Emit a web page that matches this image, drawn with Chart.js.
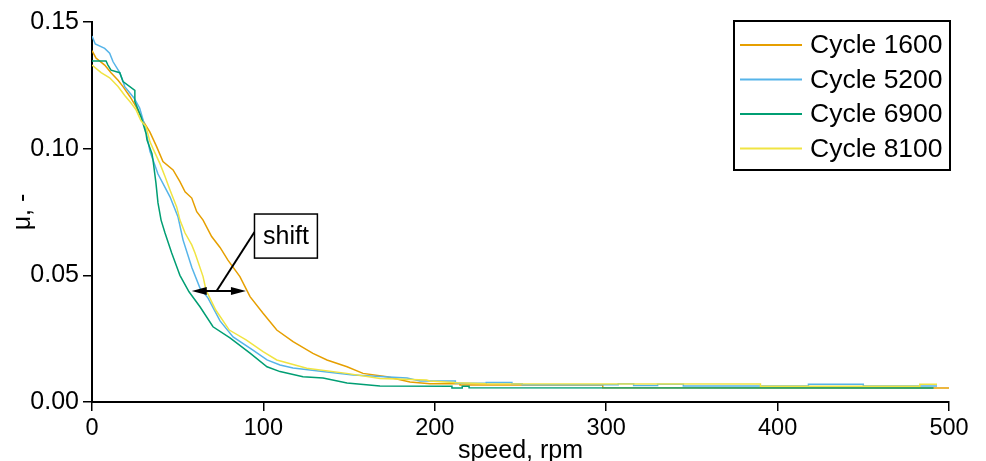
<!DOCTYPE html>
<html>
<head>
<meta charset="utf-8">
<title>Reibwert über Drehzahl</title>
<script src="https://cdn.jsdelivr.net/npm/chart.js@4.4.1/dist/chart.umd.min.js"></script>
<style>
    html, body { margin: 0; padding: 0; background: #fff; }
    canvas { display: block; }
</style>
</head>
<body>
<canvas id="chart" width="986" height="461"></canvas>
<script>

let seriesLabels = ['Cycle 1600', 'Cycle 5200', 'Cycle 6900', 'Cycle 8100'];
let seriesColors = ['#E69F00', '#56B4E9', '#009E73', '#F0E442'];

// speed in rpm, mu
let cycle1600Speed = [0, 2.3, 7.4, 11.1, 15.2, 18.1, 22.2, 25.7, 29.8, 33.8, 37.7, 41.4, 47.3, 51.3, 54.3, 58.2, 61.1, 64.8, 69.8, 74.7, 79.3, 86.3, 92.2, 99.8, 107.8, 117.3, 128.9, 137.1, 148.8, 158.1, 172.1, 185.5, 197.2, 214.7, 214.7, 298, 298, 500];
let cycle1600Mu = [0.1387, 0.1358, 0.1330, 0.1300, 0.1270, 0.1245, 0.1205, 0.1166, 0.1110, 0.1065, 0.1008, 0.0949, 0.0916, 0.0870, 0.0830, 0.0805, 0.0751, 0.0718, 0.0653, 0.0610, 0.0560, 0.0495, 0.0416, 0.0350, 0.0284, 0.0238, 0.0192, 0.0166, 0.0139, 0.0113, 0.0100, 0.0079, 0.0072, 0.0072, 0.0067, 0.0067, 0.0056, 0.0055];

let cycle5200Speed = [0, 1.9, 7.4, 10.3, 12.3, 16.2, 18.1, 19.1, 24.5, 27.8, 29.8, 31.5, 33.8, 38.5, 45.5, 50.2, 53.1, 58.3, 63.0, 67.7, 74.7, 82.3, 93.9, 102.1, 109.7, 117.3, 137.1, 152.3, 183.8, 191.4, 212, 212, 230, 230, 245, 245, 251, 251, 307, 307, 316, 316, 330, 330, 345, 345, 418, 418, 450, 450, 493];
let cycle5200Mu = [0.1445, 0.1413, 0.1396, 0.1377, 0.1343, 0.1300, 0.1265, 0.1245, 0.1200, 0.1160, 0.1113, 0.1070, 0.0990, 0.0900, 0.0810, 0.0730, 0.0640, 0.0530, 0.0450, 0.0410, 0.0320, 0.0257, 0.0205, 0.0166, 0.0146, 0.0134, 0.0118, 0.0107, 0.0095, 0.0083, 0.0083, 0.0074, 0.0074, 0.0077, 0.0077, 0.0072, 0.0072, 0.0068, 0.0068, 0.0072, 0.0072, 0.0065, 0.0065, 0.0070, 0.0070, 0.0063, 0.0063, 0.0070, 0.0070, 0.0063, 0.0063];

let cycle6900Speed = [0, 8.2, 9.3, 11.1, 16.2, 18.1, 25.0, 25.0, 28.6, 31.5, 32.1, 35.0, 35.6, 37.3, 38.5, 40.3, 42.6, 46.5, 50.2, 51.3, 56.6, 63.0, 70.6, 80.5, 92.2, 102.1, 109.7, 123.1, 134.8, 148.8, 168.0, 210, 210, 216, 216, 220, 220, 491];
let cycle6900Mu = [0.1346, 0.1346, 0.1330, 0.1310, 0.1300, 0.1265, 0.1230, 0.1186, 0.1126, 0.1060, 0.1034, 0.0980, 0.0955, 0.0865, 0.0786, 0.0718, 0.0667, 0.0588, 0.0520, 0.0500, 0.0435, 0.0376, 0.0297, 0.0253, 0.0193, 0.0139, 0.0120, 0.0100, 0.0095, 0.0075, 0.0063, 0.0062, 0.0055, 0.0055, 0.0062, 0.0062, 0.0056, 0.0055];

let cycle8100Speed = [0, 5.3, 10.3, 15.2, 19.1, 22.8, 25.7, 28.6, 31.5, 33.8, 35.6, 39.7, 42.6, 45.5, 49.4, 51.3, 54.3, 58.2, 60.1, 64.8, 66.5, 72.2, 80.1, 89.9, 99.8, 107.8, 125.3, 148.6, 168.0, 195.2, 197, 213, 230, 390, 390, 483, 483, 493];
let cycle8100Mu = [0.1330, 0.1300, 0.1280, 0.1245, 0.1210, 0.1180, 0.1153, 0.1110, 0.1087, 0.1028, 0.1000, 0.0940, 0.0890, 0.0837, 0.0770, 0.0718, 0.0667, 0.0620, 0.0588, 0.0495, 0.0442, 0.0363, 0.0284, 0.0245, 0.0199, 0.0166, 0.0133, 0.0113, 0.0093, 0.0087, 0.0083, 0.0076, 0.0072, 0.0071, 0.0062, 0.0062, 0.0070, 0.0070];

let xTicks = [0, 100, 200, 300, 400, 500];
let yTicks = [0.00, 0.05, 0.10, 0.15];

// Annotation "shift" in Datenkoordinaten
let shiftArrowFrom = [58.2, 0.0438];
let shiftArrowTo = [89.8, 0.0438];
let shiftLineFrom = [94.8, 0.0671];
let shiftLineTo = [72.7, 0.0438];
let shiftBox = [94.8, 0.0742, 131.5, 0.0568];

const fontFamily = '"Liberation Sans", Arial, sans-serif';


function toPoints(xs, ys) {
    /*
        Baut aus zwei Arrays die {x, y} Punkte für Chart.js.
     */
    let points = [];
    for (let i = 0; i < xs.length; i++) {
        points.push({x: xs[i], y: ys[i]});
    }
    return points;
}

function createDataset(index, xs, ys) {
    return {
        label: seriesLabels[index],
        data: toPoints(xs, ys),
        borderColor: seriesColors[index],
        borderWidth: 1.5,
        pointRadius: 0,
        fill: false,
        tension: 0,
        order: 4 - index
    };
}

let legendBoxPlugin = {
    id: 'legendBox',
    afterDraw: function (chart) {
        /*
            Legende mit Rahmen oben rechts im Diagramm.
         */
        let ctx = chart.ctx;
        let datasets = chart.data.datasets;
        ctx.save();
        ctx.strokeStyle = '#000';
        ctx.lineWidth = 2;
        ctx.strokeRect(734, 21, 216, 149);
        ctx.font = '26.5px ' + fontFamily;
        ctx.textBaseline = 'middle';
        ctx.fillStyle = '#000';
        for (let i = 0; i < datasets.length; i++) {
            let y = 45 + i * 34.5;
            ctx.strokeStyle = datasets[i].borderColor;
            ctx.lineWidth = 2;
            ctx.beginPath();
            ctx.moveTo(740, y);
            ctx.lineTo(802, y);
            ctx.stroke();
            ctx.fillText(datasets[i].label, 810, y + 1);
        }
        ctx.restore();
    }
};

function drawArrowHead(ctx, tipX, tipY, dir) {
    ctx.beginPath();
    ctx.moveTo(tipX, tipY);
    ctx.lineTo(tipX - dir * 15, tipY - 4);
    ctx.lineTo(tipX - dir * 15, tipY + 4);
    ctx.closePath();
    ctx.fill();
}

let shiftPlugin = {
    id: 'shiftNote',
    afterDatasetsDraw: function (chart) {
        /*
            Zeichnet den Pfeil und das Textfeld "shift".
         */
        let ctx = chart.ctx;
        let sx = chart.scales.x;
        let sy = chart.scales.y;
        let ax1 = sx.getPixelForValue(shiftArrowFrom[0]);
        let ax2 = sx.getPixelForValue(shiftArrowTo[0]);
        let ay = sy.getPixelForValue(shiftArrowFrom[1]);

        ctx.save();
        ctx.strokeStyle = '#000';
        ctx.fillStyle = '#000';
        ctx.lineWidth = 2;
        ctx.beginPath();
        ctx.moveTo(ax1 + 10, ay);
        ctx.lineTo(ax2 - 10, ay);
        ctx.stroke();
        drawArrowHead(ctx, ax1, ay, -1);
        drawArrowHead(ctx, ax2, ay, 1);

        ctx.beginPath();
        ctx.moveTo(sx.getPixelForValue(shiftLineFrom[0]), sy.getPixelForValue(shiftLineFrom[1]));
        ctx.lineTo(sx.getPixelForValue(shiftLineTo[0]), sy.getPixelForValue(shiftLineTo[1]));
        ctx.stroke();

        let bx1 = sx.getPixelForValue(shiftBox[0]);
        let by1 = sy.getPixelForValue(shiftBox[1]);
        let bx2 = sx.getPixelForValue(shiftBox[2]);
        let by2 = sy.getPixelForValue(shiftBox[3]);
        ctx.fillStyle = '#fff';
        ctx.fillRect(bx1, by1, bx2 - bx1, by2 - by1);
        ctx.lineWidth = 1.5;
        ctx.strokeRect(bx1, by1, bx2 - bx1, by2 - by1);
        ctx.fillStyle = '#000';
        ctx.font = '25px ' + fontFamily;
        ctx.textAlign = 'center';
        ctx.textBaseline = 'middle';
        ctx.fillText('shift', (bx1 + bx2) / 2, (by1 + by2) / 2 + 1);
        ctx.restore();
    }
};

Chart.defaults.font.family = fontFamily;
Chart.defaults.color = '#000';

let chart = new Chart(document.getElementById('chart').getContext('2d'), {
    type: 'line',
    data: {
        datasets: [
            createDataset(0, cycle1600Speed, cycle1600Mu),
            createDataset(1, cycle5200Speed, cycle5200Mu),
            createDataset(2, cycle6900Speed, cycle6900Mu),
            createDataset(3, cycle8100Speed, cycle8100Mu)
        ]
    },
    options: {
        responsive: false,
        animation: false,
        layout: {padding: {top: 22, right: 37, left: 0, bottom: 0}},
        plugins: {
            legend: {display: false},
            tooltip: {enabled: false}
        },
        scales: {
            x: {
                type: 'linear',
                min: 0,
                max: 500,
                afterBuildTicks: function (scale) {
                    scale.ticks = xTicks.map(function (v) { return {value: v}; });
                },
                afterFit: function (scale) { scale.height = 59; },
                grid: {drawOnChartArea: false, drawTicks: true, tickLength: 9, color: '#000', lineWidth: 1.5},
                border: {color: '#000', width: 2},
                ticks: {font: {size: 23.5}, padding: 3, maxRotation: 0},
                title: {display: true, text: 'speed, rpm', font: {size: 25}, padding: {top: 0, bottom: -5}}
            },
            y: {
                type: 'linear',
                min: 0,
                max: 0.15,
                afterBuildTicks: function (scale) {
                    scale.ticks = yTicks.map(function (v) { return {value: v}; });
                },
                afterFit: function (scale) { scale.width = 92; },
                grid: {drawOnChartArea: false, drawTicks: true, tickLength: 9, color: '#000', lineWidth: 1.5},
                border: {color: '#000', width: 2},
                ticks: {
                    font: {size: 25},
                    padding: 4,
                    callback: function (value) { return value.toFixed(2); }
                },
                title: {display: true, text: 'μ, -', font: {size: 25}, padding: {top: 8, bottom: 0}}
            }
        }
    },
    plugins: [legendBoxPlugin, shiftPlugin]
});

</script>
</body>
</html>
